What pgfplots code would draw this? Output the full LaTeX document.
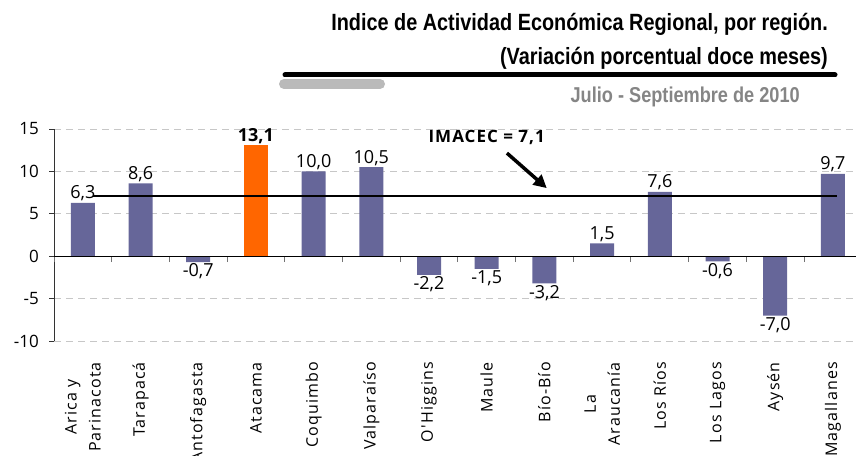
\documentclass[border=0pt]{standalone}
\usepackage{pgfplots}
\pgfplotsset{compat=1.18}
\usepackage{fontspec}
\setmainfont{Open Sans}
\newfontfamily\narrowfont[FakeStretch=0.845]{Liberation Sans}
\newfontfamily\catfont[LetterSpace=7]{Open Sans}
\newfontfamily\imafont[LetterSpace=6]{Open Sans}
\usetikzlibrary{arrows.meta}
\definecolor{barblue}{HTML}{666699}
\definecolor{barorange}{HTML}{FF6600}
\begin{document}
\begin{tikzpicture}
\path[use as bounding box] (0,0) rectangle (856bp,456bp);
% titles
\node[anchor=base east, inner sep=0, font=\narrowfont\bfseries\fontsize{23.5bp}{28bp}\selectfont] at (828bp,425bp) {Indice de Actividad Económica Regional, por región.};
\node[anchor=base east, inner sep=0, font=\narrowfont\bfseries\fontsize{23.5bp}{28bp}\selectfont] at (828bp,391bp) {(Variación porcentual doce meses)};
\draw[line width=5bp, line cap=round] (285bp,381bp) -- (835bp,381bp);
\draw[line width=10bp, line cap=round, color=black!27] (284bp,372bp) -- (380bp,372bp);
\node[anchor=base east, inner sep=0, text=black!48, font=\narrowfont\bfseries\fontsize{21.5bp}{26bp}\selectfont] at (800bp,353bp) {Julio - Septiembre de 2010};

\begin{axis}[
  scale only axis, width=802bp, height=212bp,
  at={(54bp,115bp)}, anchor=south west,
  xmin=-0.5, xmax=13.4, ymin=-10, ymax=15,
  ytick={-10,-5,...,15},
  axis y line*=left, axis x line*=bottom,
  x axis line style={draw=none},
  y axis line style={-, black!80, line width=0.8bp},
  ymajorgrids,
  major grid style={dash pattern=on 7bp off 5bp, black!22, line width=0.8bp},
  tick align=outside,
  major tick length=5bp,
  xtick style={draw=none},
  ytick style={black!80, line width=0.8bp},
  yticklabel style={font=\fontsize{17bp}{20bp}\selectfont, inner sep=0pt, xshift=-10bp},
  /pgf/number format/assume math mode=true,
  xtick={0,...,13},
  xticklabels={{Arica y\\Parinacota},Tarapacá,Antofagasta,Atacama,Coquimbo,Valparaíso,O'Higgins,Maule,Bío-Bío,{La\\Araucanía},Los Ríos,Los Lagos,Aysén,Magallanes},
  xticklabel style={rotate=90, anchor=east, align=center, inner sep=0pt, xshift=-16bp,
     font=\catfont\fontsize{16bp}{24bp}\selectfont},
  ybar, bar width=24bp, bar shift=0pt,
  nodes near coords={\pgfmathprintnumber[fixed, fixed zerofill, precision=1, use comma, assume math mode=true]{\pgfplotspointmeta}},
  point meta=y,
  every node near coord/.append style={font=\fontsize{18bp}{21bp}\selectfont, black, inner sep=1.5bp},
  clip=false,
]
\addplot[fill=barblue, draw=none] coordinates {
 (0,6.3) (1,8.6) (2,-0.7) (4,10.0) (5,10.5) (6,-2.2) (7,-1.5)
 (8,-3.2) (9,1.5) (10,7.6) (11,-0.6) (12,-7.0) (13,9.7)
};
\addplot[fill=barorange, draw=none, every node near coord/.append style={font=\bfseries\fontsize{18bp}{21bp}\selectfont}] coordinates {
 (3,13.1)
};
\addplot[sharp plot, black, line width=1.4bp, nodes near coords={}, forget plot] coordinates {(0.18,7.1) (13.07,7.1)};
\node[font=\imafont\bfseries\fontsize{17bp}{20bp}\selectfont, inner sep=0] at (axis cs:7.0,14.05) {IMACEC = 7,1};
\draw[line width=3.5bp, -{Triangle[length=13bp,width=13bp]}] (axis cs:7.35,12.16) -- (axis cs:8.04,8.03);
\end{axis}

\begin{axis}[
  scale only axis, width=802bp, height=212bp,
  at={(54bp,115bp)}, anchor=south west,
  xmin=-0.5, xmax=13.4, ymin=-10, ymax=15,
  axis x line=middle, axis y line=none,
  x axis line style={-, black, line width=1bp},
  xtick={-0.5,0.5,...,12.5}, xticklabels={},
  tick align=outside, major tick length=6bp,
  xtick style={black!55, line width=1bp},
  ytick=\empty,
]
\addplot[draw=none] coordinates {(0,0)};
\end{axis}
\end{tikzpicture}
\end{document}
